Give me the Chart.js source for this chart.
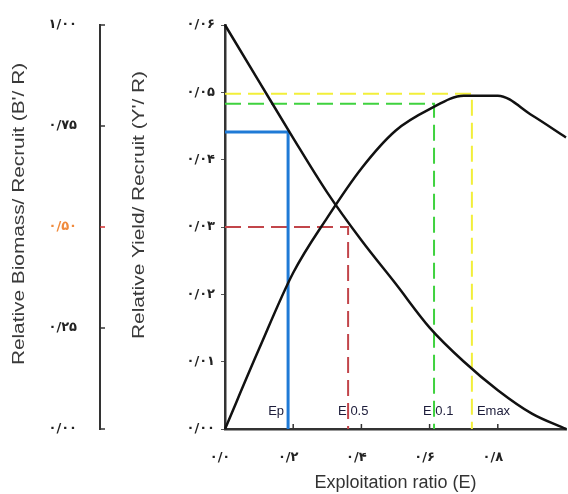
<!DOCTYPE html>
<html>
<head>
<meta charset="utf-8">
<script src="https://cdn.jsdelivr.net/npm/chart.js@4"></script>
<style>
  html, body { margin: 0; padding: 0; background: #fff; }
  canvas { display: block; }
</style>
</head>
<body>
<canvas id="myChart" width="568" height="494"></canvas>
<script>
// curves
const exploitation = [0, 0.1, 0.2, 0.3, 0.4, 0.5, 0.6, 0.7, 0.8, 0.9, 1.0]
const yieldPerRecruit = [0, 0.0119, 0.0232, 0.0314, 0.0387, 0.0443, 0.0475, 0.0495, 0.0495, 0.0466, 0.0433]
const biomassPerRecruit = [1.0, 0.86, 0.72, 0.585, 0.467, 0.36, 0.251, 0.167, 0.096, 0.038, 0.0]

// reference points (E value, Y'/R level)
const refNames = ['Ep', 'E 0.5', 'E 0.1', 'Emax']
const refE = [0.185, 0.361, 0.613, 0.724]
const refYield = [0.0441, 0.030, 0.0483, 0.0498]

// tick labels
const xTickLabels = ['۰/۰', '۰/۲', '۰/۴', '۰/۶', '۰/۸', '']
const yieldTickLabels = ['۰/۰۰', '۰/۰۱', '۰/۰۲', '۰/۰۳', '۰/۰۴', '۰/۰۵', '۰/۰۶']
const biomassTickLabels = ['۰/۰۰', '۰/۲۵', '۰/۵۰', '۰/۷۵', '۱/۰۰']

const refStyle = [
  { color: '#1f7ad6', width: 3, dash: [] },
  { color: '#c2454a', width: 2, dash: [16, 7] },
  { color: '#3fd23f', width: 2, dash: [16, 7] },
  { color: '#f2ef3a', width: 2, dash: [16, 7] },
]

const tickFont = { family: 'DejaVu Sans', weight: 'bold', size: 13 }

const curves = [
  {
    label: "Y'/R",
    data: exploitation.map((e, i) => ({ x: e, y: yieldPerRecruit[i] })),
    yAxisID: 'y',
  },
  {
    label: "B'/R",
    data: exploitation.map((e, i) => ({ x: e, y: biomassPerRecruit[i] })),
    yAxisID: 'y2',
  },
].map(d => ({
  ...d,
  borderColor: '#111',
  borderWidth: 2.5,
  pointRadius: 0,
  cubicInterpolationMode: 'monotone',
  clip: false,
}))

const refLines = refE.map((e, i) => ({
  label: refNames[i],
  data: [
    { x: 0, y: refYield[i] },
    { x: e, y: refYield[i] },
    { x: e, y: 0 },
  ],
  yAxisID: 'y',
  borderColor: refStyle[i].color,
  borderWidth: refStyle[i].width,
  borderDash: refStyle[i].dash,
  pointRadius: 0,
  tension: 0,
}))

const overlay = {
  id: 'overlay',
  afterDraw: chart => {
    const { ctx, scales: { x, y, y2 } } = chart
    ctx.save()

    // inward tick marks on the E axis
    ctx.strokeStyle = '#333'
    ctx.lineWidth = 1.5
    x.ticks.forEach((t, i) => {
      if (i === 0 || i === x.ticks.length - 1) return
      const px = x.getPixelForValue(t.value)
      ctx.beginPath()
      ctx.moveTo(px, y.bottom)
      ctx.lineTo(px, y.bottom - 5)
      ctx.stroke()
    })

    // inward tick marks on the biomass axis
    y2.ticks.forEach((t, i) => {
      const py = y2.getPixelForValue(t.value)
      ctx.strokeStyle = i === 2 ? '#d23030' : '#333'
      ctx.beginPath()
      ctx.moveTo(y2.right, py)
      ctx.lineTo(y2.right + 5, py)
      ctx.stroke()
    })

    // names of the reference points
    ctx.font = '13px "Liberation Sans"'
    ctx.fillStyle = '#1c1c3a'
    ctx.textBaseline = 'middle'
    const ly = y.bottom - 18
    const place = [
      { align: 'right', dx: -4 },
      { align: 'left', dx: -10 },
      { align: 'left', dx: -11 },
      { align: 'left', dx: 5 },
    ]
    refE.forEach((e, i) => {
      ctx.textAlign = place[i].align
      ctx.fillText(refNames[i], x.getPixelForValue(e) + place[i].dx, ly)
    })

    // rotated axis titles
    const rotated = (text, cx, cy) => {
      ctx.save()
      ctx.translate(cx, cy)
      ctx.rotate(-Math.PI / 2)
      ctx.scale(1.3, 1)
      ctx.textAlign = 'center'
      ctx.textBaseline = 'middle'
      ctx.fillText(text, 0, 0)
      ctx.restore()
    }
    ctx.font = '16px "Liberation Sans"'
    ctx.fillStyle = '#3a3a3a'
    const mid = (y.top + y.bottom) / 2
    rotated("Relative Biomass/ Recruit (B'/ R)", y2.left + 20, mid - 13)
    rotated("Relative Yield/ Recruit (Y'/ R)", y.left + 40, mid - 22)

    ctx.restore()
  },
}

const options = {
  animation: false,
  responsive: false,
  layout: { padding: { top: 25, right: 2, bottom: 0, left: 0 } },
  plugins: {
    legend: { display: false },
    tooltip: { enabled: false },
  },
  scales: {
    x: {
      type: 'linear',
      min: 0,
      max: 1,
      grid: { display: false },
      border: { color: '#333', width: 2.5 },
      ticks: {
        stepSize: 0.2,
        autoSkip: false,
        maxRotation: 0,
        padding: 13,
        labelOffset: -5,
        color: '#222',
        font: tickFont,
        callback: (v, i) => xTickLabels[i],
      },
      title: {
        display: true,
        text: 'Exploitation ratio (E)',
        color: '#333',
        font: { family: 'Liberation Sans', size: 18 },
        padding: { top: 0, bottom: 0 },
      },
      afterFit: scale => {
        scale.height = 65
        scale.paddingLeft = 0
        scale.paddingRight = 0
      },
    },
    y: {
      position: 'left',
      weight: 0,
      min: 0,
      max: 0.06,
      grid: { drawOnChartArea: false, tickLength: 4, color: '#555' },
      border: { color: '#333', width: 2.5 },
      ticks: {
        stepSize: 0.01,
        padding: 6,
        color: '#222',
        font: tickFont,
        callback: (v, i) => yieldTickLabels[i],
      },
      afterFit: scale => { scale.width = 125 },
    },
    y2: {
      position: 'left',
      weight: 1,
      min: 0,
      max: 1,
      grid: { display: false },
      border: { color: '#333', width: 2 },
      ticks: {
        stepSize: 0.25,
        padding: 15,
        color: ctx => (ctx.index === 2 ? '#f08a3c' : '#222'),
        font: tickFont,
        callback: (v, i) => biomassTickLabels[i],
      },
      afterFit: scale => { scale.width = 100 },
    },
  },
}

const myChart = new Chart(document.getElementById('myChart'), {
  type: 'line',
  data: { datasets: [...curves, ...refLines] },
  plugins: [overlay],
  options,
})
</script>
</body>
</html>
